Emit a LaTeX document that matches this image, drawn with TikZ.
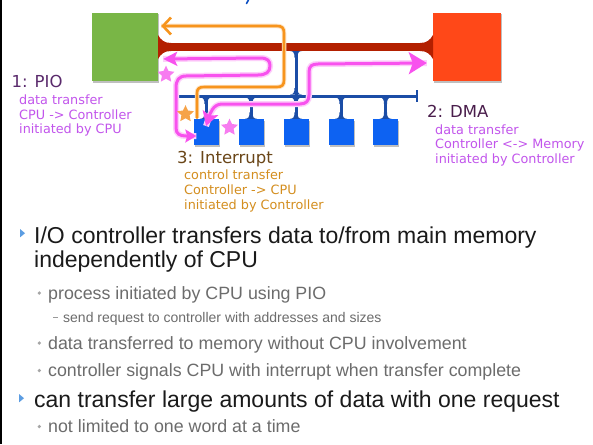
\documentclass[tikz,border=0pt]{standalone}
\usepackage{fontspec}
\setmainfont{Liberation Sans}
\newfontfamily\lblfont{DejaVu Sans}
\usetikzlibrary{arrows.meta,shadows,calc}

\definecolor{cpugreen}{HTML}{79B646}
\definecolor{memred}{HTML}{FF4818}
\definecolor{busred}{HTML}{B32000}
\definecolor{busblue}{HTML}{1B4DA6}
\definecolor{devblue}{HTML}{0D62F2}
\definecolor{pinkarr}{HTML}{F852EE}
\definecolor{orangearr}{HTML}{F7941D}
\definecolor{starpink}{HTML}{F77CF0}
\definecolor{starorange}{HTML}{F6A348}
\definecolor{piotitle}{HTML}{5A2A6C}
\definecolor{dmatitle}{HTML}{4A1E4C}
\definecolor{inttitle}{HTML}{6A4618}
\definecolor{pinktext}{HTML}{C255EC}
\definecolor{orangetext}{HTML}{D48E1F}
\definecolor{bodytext}{HTML}{1A1A1A}
\definecolor{subtext}{HTML}{6C6C6C}
\definecolor{bulletblue}{HTML}{5C9DE2}

\tikzset{
  unitbox/.style={rectangle, inner sep=0pt, draw=none,
    drop shadow={shadow xshift=1pt, shadow yshift=-1.5pt, opacity=0.25, fill=black}},
  cpubox/.style={unitbox, fill=cpugreen, minimum width=66pt, minimum height=68pt},
  membox/.style={unitbox, fill=memred, minimum width=68pt, minimum height=68pt},
  devbox/.style={unitbox, fill=devblue, minimum width=25pt, minimum height=26pt},
  bluewire/.style={busblue, line width=3pt},
  flaredown/.pic={\fill[busblue] (-6,0) .. controls (-2.5,0) and (-1.5,2) .. (-1.5,6.5)
      -- (1.5,6.5) .. controls (1.5,2) and (2.5,0) .. (6,0) -- cycle;},
  flareup/.pic={\fill[busblue] (-6,0) .. controls (-2.5,0) and (-1.5,-2) .. (-1.5,-6.5)
      -- (1.5,-6.5) .. controls (1.5,-2) and (2.5,0) .. (6,0) -- cycle;},
  % five-pointed star, point up (y runs downward here)
  starmark/.pic={\fill (-90:8.8) \foreach \a/\r in {-54/4.3,-18/8.8,18/4.3,54/8.8,90/4.3,
      126/8.8,162/4.3,198/8.8,234/4.3} { -- (\a:\r) } -- cycle;},
  pinkpath/.style={pinkarr, line width=3pt, line cap=round, line join=round,
    preaction={draw=pinkarr!28, line width=6pt, arrows=-}},
  orangepath/.style={orangearr, line width=2.6pt, line cap=round, line join=round,
    preaction={draw=orangearr!25, line width=4.5pt, arrows=-}},
  lbltitle/.style={anchor=base west, inner sep=0pt,
    font=\lblfont\fontsize{16.5}{18}\selectfont},
  lblline/.style={anchor=base west, inner sep=0pt,
    font=\lblfont\fontsize{12.8}{14}\selectfont},
  mainline/.style={anchor=base west, inner sep=0pt, text=bodytext,
    font=\fontsize{23}{26}\selectfont},
  subline/.style={anchor=base west, inner sep=0pt, text=subtext,
    font=\fontsize{17.8}{21}\selectfont},
  subsubline/.style={anchor=base west, inner sep=0pt, text=subtext,
    font=\fontsize{14}{17}\selectfont},
}

\begin{document}
\begin{tikzpicture}[x=1pt, y=-1pt]
\useasboundingbox (0,0) rectangle (593,444);
\fill[white] (0,0) rectangle (593,444);

% slide edge and the tail of the title above
\draw[black, line width=1.5pt] (0.75,0) -- (0.75,444);
\draw[devblue!80!black, line width=1.6pt, line cap=round] (248.5,0) -- (246.5,3.5);

% CPU, memory and the five I/O controllers
\node[cpubox] (cpu) at (125,47) {};
\node[membox] (mem) at (467,47) {};
\foreach \i/\x in {1/206,2/251,3/296,4/341,5/385.5}
  \node[devbox] (d\i) at (\x,132) {};

% memory bus with flared ends
\draw[busred, line width=8pt] (cpu.east) -- (mem.west);
\fill[busred] (158,35) .. controls (161,40) and (164,43) .. (171,43) -- (171,51)
  .. controls (164,51) and (161,54) .. (158,59) -- cycle;
\fill[busred] (433,35) .. controls (430,40) and (427,43) .. (420,43) -- (420,51)
  .. controls (427,51) and (430,54) .. (433,59) -- cycle;

% I/O bus and its bridge to the memory bus
\coordinate (ioL) at (176,96);
\coordinate (ioR) at (417,96);
\coordinate (bridgeTop) at (296,51);
\coordinate (bridgeBot) at (296,96);
\draw[bluewire] (bridgeTop) -- (bridgeBot);
\pic at (bridgeTop) {flaredown};
\pic at ($(bridgeBot)+(0,-1.5)$) {flareup};
\draw[bluewire] (ioL) -- (ioR);
\draw[busblue, line width=2.6pt] ($(ioL)+(0,-6)$) -- ($(ioL)+(0,6)$);
\draw[busblue, line width=2.6pt] ($(ioR)+(0,-6)$) -- ($(ioR)+(0,6)$);
\foreach \i in {1,...,5} {
  \draw[bluewire] (d\i.north |- ioL) -- (d\i.north);
  \pic at ($(d\i.north |- ioL)+(0,1.5)$) {flaredown};
  \pic at (d\i.north) {flareup};
}

% 1: PIO (CPU -> controller)
\draw[pinkpath, {Stealth[length=14pt,width=14pt,inset=3pt]}-{Stealth[length=11pt,width=13pt,inset=2pt]}]
  ($(cpu.east)+(5,12)$) -- (260,58) .. controls (268,58) and (270,61) .. (270,66)
  .. controls (270,72) and (266,75) .. (258,75) -- (186,76)
  .. controls (179,76) and (176,80) .. (176,88) -- (176,128)
  .. controls (176,134) and (180,136) .. (186,136) -- ($(d1.west)+(3,4)$);

% 2: DMA (controller <-> memory)
\draw[pinkpath, {Stealth[length=14pt,width=16pt,inset=3pt]}-{Stealth[length=18pt,width=22pt,inset=4pt]}]
  ($(d1.center)+(0,-6)$) .. controls (210,114) and (213,104) .. (222,104) -- (300,104)
  .. controls (306,104) and (309,101) .. (309,95) -- (309,72)
  .. controls (309,66) and (312,64) .. (318,64) -- ($(mem.west)+(-6,16)$);

% 3: Interrupt (controller -> CPU)
\draw[orangepath, -{Straight Barb[length=8pt,width=17pt]}]
  ($(d1.north)+(-9,-1)$) -- (197,93) .. controls (197,89) and (199,87) .. (204,87)
  -- (277,87) .. controls (282,87) and (284,85) .. (284,80) -- (284,33)
  .. controls (284,28) and (282,26) .. (277,26) -- ($(cpu.east)+(3,-21)$);

% initiators
\pic[fill=starpink] at (166,74.5) {starmark};
\pic[fill=starorange] at (185.5,114) {starmark};
\pic[fill=starpink] at (229.5,127.5) {starmark};

% labels
\node[lbltitle, text=piotitle] (piot) at (11.5,87) {1: PIO};
\node[lblline, text=pinktext] at (19,104.5) {data transfer};
\node[lblline, text=pinktext] at (19,119) {CPU -> Controller};
\node[lblline, text=pinktext] at (19,133.5) {initiated by CPU};

\node[lbltitle, text=dmatitle] (dmat) at (427,117) {2: DMA};
\node[lblline, text=pinktext] at (435,134.5) {data transfer};
\node[lblline, text=pinktext] at (435,148.5) {Controller <-> Memory};
\node[lblline, text=pinktext] at (435,163) {initiated by Controller};

\node[lbltitle, text=inttitle] (intt) at (177,163.5) {3: Interrupt};
\node[lblline, text=orangetext] at (184,179.5) {control transfer};
\node[lblline, text=orangetext] at (184,194.5) {Controller -> CPU};
\node[lblline, text=orangetext] at (184,209.5) {initiated by Controller};

% bullet list
\fill[bulletblue] (20,229) -- (25,233.2) -- (20,237.4) -- cycle;
\node[mainline] at (34,243) {I/O controller transfers data to/from main memory};
\node[mainline] at (34,267) {independently of CPU};
\fill[black!35] (39.3,293) circle (1.8);
\node[subline] at (48,299) {process initiated by CPU using PIO};
\draw[black!40, line width=0.8pt] (53,317.5) -- (57.5,317.5);
\node[subsubline] at (63,322) {send request to controller with addresses and sizes};
\fill[black!35] (39.3,343) circle (1.8);
\node[subline] at (48,349) {data transferred to memory without CPU involvement};
\fill[black!35] (39.3,370.5) circle (1.8);
\node[subline] at (48,376.5) {controller signals CPU with interrupt when transfer complete};
\fill[bulletblue] (19,394) -- (24,398.2) -- (19,402.4) -- cycle;
\node[mainline] at (34,407) {can transfer large amounts of data with one request};
\fill[black!35] (39.3,426.5) circle (1.8);
\node[subline] at (48,432.5) {not limited to one word at a time};
\end{tikzpicture}
\end{document}
